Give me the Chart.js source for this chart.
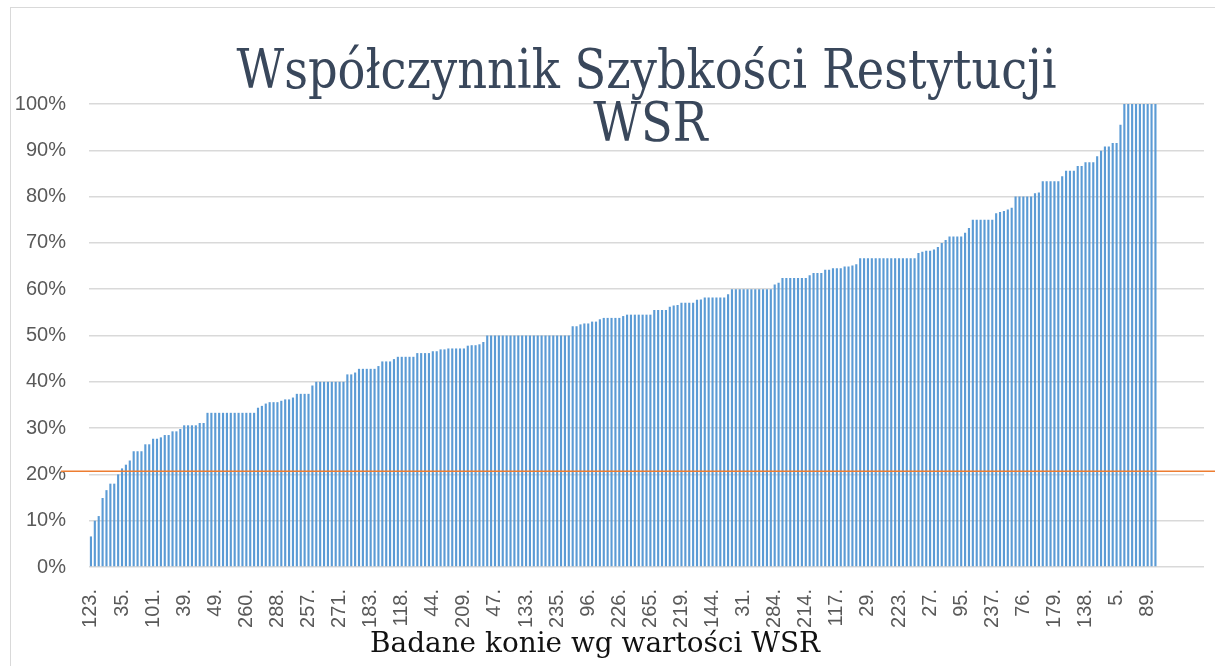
<!DOCTYPE html>
<html>
<head>
<meta charset="utf-8">
<script src="https://cdn.jsdelivr.net/npm/chart.js@4/dist/chart.umd.min.js"></script>
<style>
  html, body { margin: 0; padding: 0; background: #fff; }
  #wrap { width: 1215px; height: 666px; }
</style>
</head>
<body>
<div id="wrap"><canvas id="chart" width="1215" height="666"></canvas></div>
<script>
// horse numbers shown under every 8th bar
const tickLabels = [
  '123.', '35.', '101.', '39.', '49.', '260.', '288.', '257.', '271.', '183.',
  '118.', '44.', '209.', '47.', '133.', '235.', '96.', '226.', '265.', '219.',
  '144.', '31.', '284.', '214.', '117.', '29.', '223.', '27.', '95.', '237.',
  '76.', '179.', '138.', '5.', '89.'
];

// WSR in %, sorted ascending, one value per horse
const wsrValues = [
  6.6, 10.0, 11.0, 14.9, 16.6, 18.0, 18.0, 20.0, 21.3, 22.1,
  23.0, 25.0, 25.0, 25.0, 26.5, 26.5, 27.7, 27.7, 28.0, 28.5,
  28.5, 29.3, 29.3, 29.8, 30.6, 30.6, 30.6, 30.6, 31.1, 31.1,
  33.3, 33.3, 33.3, 33.3, 33.3, 33.3, 33.3, 33.3, 33.3, 33.3,
  33.3, 33.3, 33.3, 34.4, 34.8, 35.3, 35.6, 35.6, 35.6, 35.9,
  36.2, 36.2, 36.6, 37.4, 37.4, 37.4, 37.4, 39.2, 40.0, 40.0,
  40.0, 40.0, 40.0, 40.0, 40.0, 40.0, 41.6, 41.6, 42.0, 42.8,
  42.8, 42.8, 42.8, 42.8, 43.4, 44.4, 44.4, 44.4, 44.9, 45.4,
  45.4, 45.4, 45.4, 45.4, 46.2, 46.2, 46.2, 46.2, 46.6, 46.6,
  47.0, 47.0, 47.2, 47.2, 47.2, 47.2, 47.2, 47.8, 47.9, 47.9,
  48.1, 48.6, 50.0, 50.0, 50.0, 50.0, 50.0, 50.0, 50.0, 50.0,
  50.0, 50.0, 50.0, 50.0, 50.0, 50.0, 50.0, 50.0, 50.0, 50.0,
  50.0, 50.0, 50.0, 50.0, 52.0, 52.0, 52.4, 52.6, 52.6, 53.0,
  53.0, 53.5, 53.8, 53.8, 53.8, 53.8, 53.8, 54.2, 54.5, 54.5,
  54.5, 54.5, 54.5, 54.5, 54.5, 55.5, 55.5, 55.5, 55.5, 56.2,
  56.5, 56.6, 57.1, 57.1, 57.1, 57.1, 57.7, 57.8, 58.2, 58.2,
  58.2, 58.2, 58.2, 58.2, 58.9, 60.0, 60.0, 60.0, 60.0, 60.0,
  60.0, 60.0, 60.0, 60.0, 60.0, 60.0, 61.0, 61.4, 62.4, 62.4,
  62.4, 62.4, 62.4, 62.4, 62.4, 63.0, 63.5, 63.5, 63.5, 64.2,
  64.2, 64.5, 64.5, 64.5, 64.9, 64.9, 65.1, 65.4, 66.7, 66.7,
  66.7, 66.7, 66.7, 66.7, 66.7, 66.7, 66.7, 66.7, 66.7, 66.7,
  66.7, 66.7, 66.7, 67.8, 68.1, 68.3, 68.3, 68.6, 69.1, 70.0,
  70.6, 71.4, 71.4, 71.4, 71.4, 72.2, 73.2, 75.0, 75.0, 75.0,
  75.0, 75.0, 75.0, 76.4, 76.7, 76.9, 77.2, 77.6, 80.0, 80.0,
  80.0, 80.0, 80.0, 80.7, 80.9, 83.3, 83.3, 83.3, 83.3, 83.3,
  84.4, 85.6, 85.6, 85.6, 86.6, 86.6, 87.4, 87.4, 87.4, 88.7,
  89.9, 90.8, 90.8, 91.6, 91.6, 95.5, 100, 100, 100, 100,
  100, 100, 100, 100, 100
];

// empty slots left at the end of the category axis
const emptySlots = 12;
const labelEvery = 8;
const thresholdValue = 20.7;

const titleLines = ['Współczynnik Szybkości Restytucji', 'WSR'];
const xTitle = 'Badane konie wg wartości WSR';

const categories = [];
const values = [];
for (let i = 0; i < wsrValues.length + emptySlots; i++) {
  categories.push(i % labelEvery === 0 && tickLabels[i / labelEvery] ? tickLabels[i / labelEvery] : '');
  values.push(i < wsrValues.length ? wsrValues[i] : null);
}

const tickFont = { family: 'Liberation Sans', size: 20 };
const tickColor = '#595959';
const gridColor = '#d9d9d9';

// draws text squeezed horizontally so it fills a target width
function fitText(ctx, text, cx, baseline, sx) {
  ctx.save();
  ctx.translate(cx, baseline);
  ctx.scale(sx, 1);
  ctx.fillText(text, 0, 0);
  ctx.restore();
}

const decorations = {
  id: 'decorations',
  beforeDraw(chart) {
    const { ctx, width, height } = chart;
    ctx.save();
    ctx.strokeStyle = gridColor;
    ctx.lineWidth = 1;
    ctx.strokeRect(10.5, 7.5, width + 20, height + 20);
    ctx.restore();
  },
  afterDatasetsDraw(chart) {
    const { ctx, chartArea, scales: { y } } = chart;
    const yy = y.getPixelForValue(thresholdValue);
    ctx.save();
    ctx.strokeStyle = '#ed7d31';
    ctx.lineWidth = 1.5;
    ctx.beginPath();
    ctx.moveTo(chartArea.left - 28, yy);
    ctx.lineTo(chart.width, yy);
    ctx.stroke();
    ctx.restore();
  },
  afterDraw(chart) {
    const { ctx, chartArea } = chart;
    const cx = (chartArea.left + chartArea.right) / 2;
    ctx.save();
    ctx.textAlign = 'center';
    ctx.textBaseline = 'alphabetic';

    ctx.fillStyle = '#39475b';
    ctx.font = '54px "DejaVu Serif"';
    const sx = 820 / ctx.measureText(titleLines[0]).width;
    fitText(ctx, titleLines[0], cx, 88, sx);
    fitText(ctx, titleLines[1], cx + 4, 141, sx);

    ctx.fillStyle = '#111';
    ctx.font = '28px "DejaVu Serif"';
    const sx2 = 450 / ctx.measureText(xTitle).width;
    fitText(ctx, xTitle, 595, 652, sx2);
    ctx.restore();
  },
};

new Chart(document.getElementById('chart'), {
  type: 'bar',
  data: {
    labels: categories,
    datasets: [
      {
        data: values,
        backgroundColor: '#5b9bd5',
        barPercentage: 0.55,
        categoryPercentage: 1,
      },
    ],
  },
  plugins: [decorations],
  options: {
    responsive: false,
    animation: false,
    layout: {
      padding: { top: 104, right: 11, bottom: 0, left: 0 },
    },
    plugins: {
      legend: { display: false },
      title: { display: false },
      tooltip: { enabled: false },
    },
    scales: {
      x: {
        offset: true,
        grid: { display: false },
        border: { display: false },
        ticks: {
          autoSkip: false,
          maxRotation: 90,
          minRotation: 90,
          padding: 14,
          color: tickColor,
          font: tickFont,
          callback: (value, index) => categories[index],
        },
        afterFit(scale) {
          scale.height = 99;
          scale.paddingLeft = 0;
          scale.paddingRight = 0;
        },
      },
      y: {
        min: 0,
        max: 100,
        grid: { color: gridColor, lineWidth: 1.5, drawTicks: false },
        border: { display: false },
        ticks: {
          stepSize: 10,
          padding: 23,
          color: tickColor,
          font: tickFont,
          callback: (v) => v + '%',
        },
        afterFit(scale) {
          scale.width = 89;
          scale.paddingTop = 0;
          scale.paddingBottom = 0;
        },
      },
    },
  },
});
</script>
</body>
</html>
